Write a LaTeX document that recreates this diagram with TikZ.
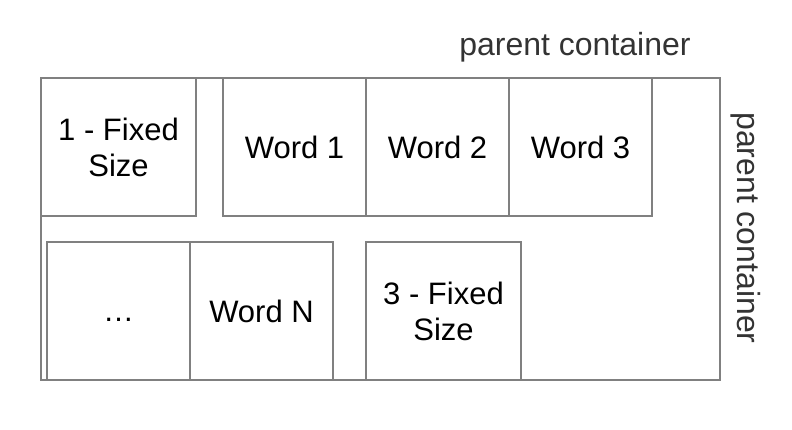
\documentclass[tikz,border=0pt]{standalone}
\usepackage{fontspec}
\setmainfont{Liberation Sans}
\usetikzlibrary{positioning}
\definecolor{boxgray}{HTML}{808080}
\definecolor{labelgray}{HTML}{333333}

\begin{document}
\begin{tikzpicture}[
    x=1pt, y=1pt,
    node distance=0pt,
    every node/.style={font=\fontsize{31}{36}\selectfont},
    wordbox/.style={rectangle, draw=boxgray, line width=1.5pt, outer sep=0pt, inner sep=0pt, minimum width=143pt, minimum height=138pt, align=center},
    fixedbox/.style={wordbox, minimum width=155pt},
    frame/.style={rectangle, draw=boxgray, line width=1.5pt, outer sep=0pt, inner sep=0pt, minimum width=679pt, minimum height=302pt},
    caption/.style={text=labelgray, inner sep=0pt, font=\fontsize{32}{36}\selectfont}
]
    \useasboundingbox (0,0) rectangle (792,-430);

    \node[frame, anchor=north west] (parent) at (41,-78) {};

    % first row
    \node[fixedbox, anchor=north west] (fixa) at (parent.north west) {1 - Fixed\\Size};
    \node[wordbox, anchor=north west] (worda) at (223,-78) {Word 1};
    \node[wordbox, right=of worda] (wordb) {Word 2};
    \node[wordbox, right=of wordb] (wordc) {Word 3};

    % second row
    \node[wordbox, anchor=south west] (dots) at (47,-380) {\vphantom{W}\dots};
    \node[wordbox, right=of dots] (wordn) {Word N};
    \node[fixedbox, anchor=south west] (fixc) at (366,-380) {3 - Fixed\\Size};

    % labels
    \node[caption] (toplabel) at (575,-47) {parent container};
    \node[caption, rotate=-90] (sidelabel) at (746,-228) {parent container};
\end{tikzpicture}
\end{document}
